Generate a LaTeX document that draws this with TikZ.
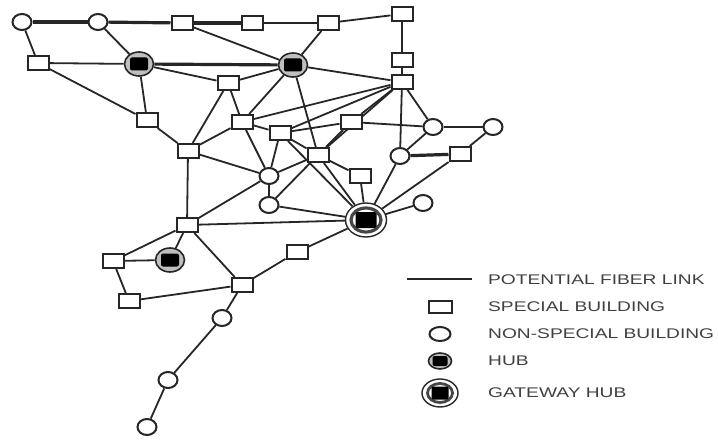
\documentclass[tikz,border=0pt]{standalone}
\usepackage{fontspec}
\setmainfont{Liberation Sans}
\usetikzlibrary{shapes.geometric}
\pgfdeclarelayer{bg}
\pgfsetlayers{bg,main}
\begin{document}
\begin{tikzpicture}[x=1pt,y=-1pt,
  sq/.style={draw=black!85, line width=2pt, fill=white, minimum width=21pt, minimum height=14pt, inner sep=0pt},
  ci/.style={ellipse, draw=black!85, line width=2pt, fill=white, minimum width=19pt, minimum height=16pt, inner sep=0pt},
  hub/.style={ellipse, draw=black!85, line width=1.6pt, fill=gray!50, minimum width=29pt, minimum height=24pt, inner sep=0pt,
    path picture={\fill[black, rounded corners=2pt] ([xshift=-9pt,yshift=-6.5pt]path picture bounding box.center) rectangle ([xshift=9pt,yshift=6.5pt]path picture bounding box.center);}},
  gateway/.style={ellipse, draw=black!85, line width=1.4pt, fill=white, minimum width=41pt, minimum height=34pt, inner sep=0pt,
    path picture={\draw[gray!55!black, line width=3.2pt] (path picture bounding box.center) ellipse [x radius=15pt, y radius=12pt];
      \fill[black, rounded corners=2pt] ([xshift=-10.5pt,yshift=-8pt]path picture bounding box.center) rectangle ([xshift=10.5pt,yshift=8pt]path picture bounding box.center);}},
  lk/.style={draw=black!85, line width=1.8pt},
  thk/.style={draw=black!85, line width=3.2pt},
  lg/.style={anchor=west, inner sep=0pt, text=black!75, font=\fontsize{14}{14}\selectfont}
]
\useasboundingbox (0,0) rectangle (718,441);
% nodes
\node[ci] (C1) at (22,22) {};
\node[ci] (C2) at (98,22) {};
\node[sq] (S3) at (182,23) {};
\node[sq] (S4) at (252,23) {};
\node[sq] (S5) at (328,23) {};
\node[sq] (S6) at (402,14) {};
\node[sq] (S7) at (402,60) {};
\node[sq] (S8) at (402,82) {};
\node[sq] (S9) at (38,63) {};
\node[hub] (H1) at (139,64) {};
\node[hub] (H2) at (293,65) {};
\node[sq] (S10) at (228,83) {};
\node[sq] (S11) at (147,120) {};
\node[sq] (S12) at (242,122) {};
\node[sq] (S13) at (280,133) {};
\node[sq] (S14) at (351,122) {};
\node[ci] (C15) at (433,127) {};
\node[ci] (C16) at (493,127) {};
\node[sq] (S17) at (188,151) {};
\node[sq] (S18) at (318,155) {};
\node[ci] (C19) at (400,156) {};
\node[sq] (S20) at (460,154) {};
\node[sq] (S21) at (360,176) {};
\node[ci] (C22) at (269,176) {};
\node[ci] (C23) at (269,205) {};
\node[gateway] (GW) at (366,220) {};
\node[ci] (C24) at (423,203) {};
\node[sq] (S25) at (187,225) {};
\node[hub] (H3) at (170,260) {};
\node[sq] (S26) at (113,261) {};
\node[sq] (S27) at (129,301) {};
\node[sq] (S28) at (242,285) {};
\node[sq] (S29) at (297,252) {};
\node[ci] (C31) at (222,318) {};
\node[ci] (C32) at (168,380) {};
\node[ci] (C33) at (147,427) {};
% edges
\begin{pgfonlayer}{bg}
\foreach \a/\b in {C1/C2, C2/S3, S3/S4, H1/H2, C19/S20}
  \draw[thk] (\a) -- (\b);
\foreach \a/\b in {S4/S5, S5/S6, S6/S7, S7/S8,
  C1/S9, C2/H1, S3/H2, S5/H2,
  S9/H1, S9/S11, H1/S11, H1/S10,
  H2/S10, H2/S12, H2/S18, H2/S8,
  S10/S17, S10/S12, S11/S17,
  S8/S12, S8/S13, S8/S14, S8/S18, S8/C19, S8/C15,
  S12/S17, S12/S13, S12/C22,
  S13/S14, S13/S18, S13/C22, S13/GW,
  S14/S18, S14/C15, C15/C16, C15/C19,
  C16/S20, S20/GW, C19/GW, C24/GW,
  S18/S21, S18/GW, S18/C23, S18/C22, S21/GW,
  S17/C22, S17/S25, C22/C23, C23/GW,
  S25/C22, S25/GW, S25/H3, S25/S26, S25/S28,
  S26/H3, S26/S27, S27/S28,
  S28/S29, S29/GW, S28/C31, C31/C32, C32/C33}
  \draw[lk] (\a) -- (\b);
\end{pgfonlayer}
% legend
\coordinate (la) at (407,279);
\coordinate (lb) at (472,279);
\draw[draw=black!85, line width=2.6pt] (la) -- (lb);
\node[sq, minimum width=23pt, minimum height=12pt] (Lsq) at (440,307) {};
\node[ci, minimum width=21pt, minimum height=14pt] (Lci) at (440,334) {};
\node[hub, minimum width=23pt, minimum height=16pt, path picture={\fill[black, rounded corners=2pt] ([xshift=-7.5pt,yshift=-5pt]path picture bounding box.center) rectangle ([xshift=7.5pt,yshift=5pt]path picture bounding box.center);}] (Lhub) at (440,361) {};
\node[gateway, minimum width=36pt, minimum height=28pt, path picture={\draw[gray!55!black, line width=2.8pt] (path picture bounding box.center) ellipse [x radius=12.5pt, y radius=9.5pt];
      \fill[black, rounded corners=2pt] ([xshift=-8.5pt,yshift=-6.5pt]path picture bounding box.center) rectangle ([xshift=8.5pt,yshift=6.5pt]path picture bounding box.center);}] (Lgw) at (440,393) {};
\node[lg] (t1) at (488,280) {\scalebox{1.37}[1]{POTENTIAL FIBER LINK}};
\node[lg] (t2) at (488,307) {\scalebox{1.37}[1]{SPECIAL BUILDING}};
\node[lg] (t3) at (488,334) {\scalebox{1.37}[1]{NON-SPECIAL BUILDING}};
\node[lg] (t4) at (488,361) {\scalebox{1.37}[1]{HUB}};
\node[lg] (t5) at (488,393) {\scalebox{1.37}[1]{GATEWAY HUB}};
\end{tikzpicture}
\end{document}
